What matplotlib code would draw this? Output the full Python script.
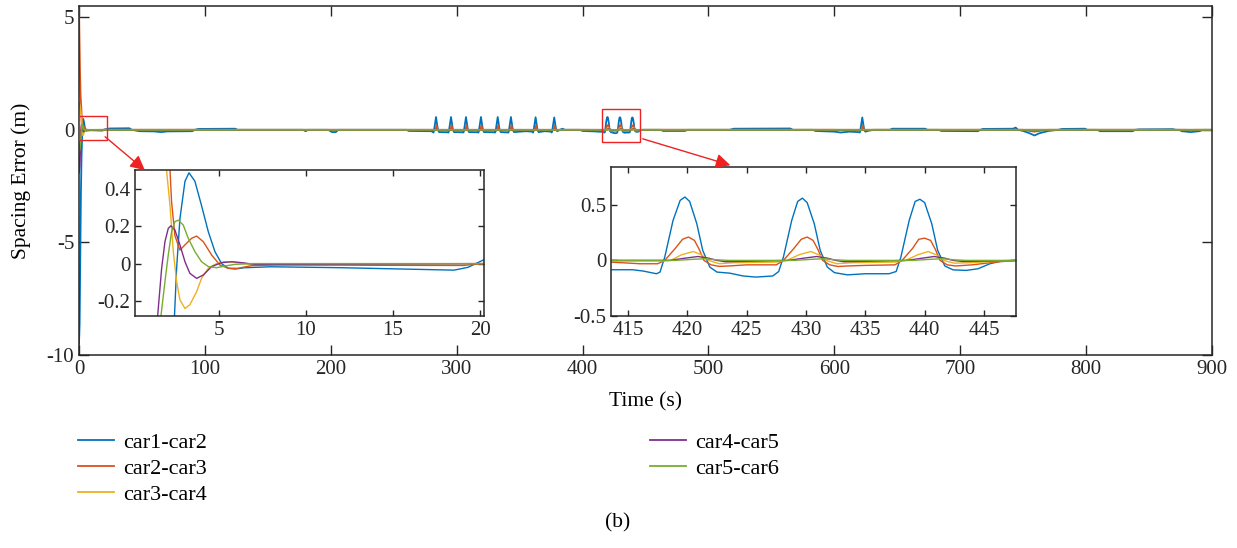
import matplotlib
matplotlib.use('Agg')
import matplotlib.pyplot as plt
from matplotlib.patches import Rectangle, FancyArrowPatch

plt.rcParams['font.family'] = ['Liberation Serif', 'DejaVu Serif']
plt.rcParams['axes.unicode_minus'] = False

# Abstandsfehler (t in s, e in m)
car12 = [(0, -9.5), (0.5, -8.6), (1.0, -5.6), (1.5, -2.9), (2.0, -1.2), (2.44, -0.29), (2.57, -0.025),
         (2.76, 0.24), (3.05, 0.44), (3.28, 0.485), (3.62, 0.44), (4.0, 0.31), (4.39, 0.17), (4.77, 0.064),
         (5.15, 0.0), (5.53, -0.025), (5.92, -0.029), (6.49, -0.022), (8.0, -0.017), (12.0, -0.022),
         (16.0, -0.03), (18.5, -0.035), (19.3, -0.02), (20.2, 0.02), (22, 0.03), (24, 0.06), (40, 0.07),
         (42, 0.0), (48, -0.06), (60, -0.07), (65, -0.1), (70, -0.07), (90, -0.06), (92, 0.0), (95, 0.04),
         (124, 0.05), (126, 0.0), (178, 0.0), (180, -0.06), (182, 0.0), (198, 0.0), (201, -0.1), (204, -0.1),
         (206, 0.0), (260, 0.0), (262, -0.05), (280, -0.06),
         (281.6, -0.12), (282.1, 0.0), (283.6, 0.57), (285.1, 0.0), (286, -0.1), (293, -0.11),
         (293.5, -0.12), (294.0, 0.0), (295.5, 0.57), (297.0, 0.0), (297.9, -0.1), (305, -0.11),
         (305.4, -0.12), (305.9, 0.0), (307.4, 0.57), (308.9, 0.0), (309.8, -0.1), (317, -0.11),
         (317.3, -0.12), (317.8, 0.0), (319.3, 0.57), (320.8, 0.0), (321.7, -0.1), (330, -0.11),
         (330.6, -0.12), (331.1, 0.0), (332.6, 0.57), (334.1, 0.0), (335.0, -0.1),
         (341.1, -0.12), (341.6, 0.0), (343.1, 0.57), (344.6, 0.0), (345.5, -0.1), (355, -0.06), (360, -0.08),
         (360.7, -0.12), (361.2, 0.0), (362.7, 0.56), (364.2, 0.0), (365.1, -0.1), (370, -0.06), (375, -0.08),
         (375.5, -0.12), (376.0, 0.0), (377.5, 0.55), (379.0, 0.0), (379.9, -0.06), (382, 0.0), (384, 0.05),
         (386, 0.0), (398, 0.0), (400, -0.05), (410, -0.07),
         (413.5, -0.084), (415.4, -0.084), (416.3, -0.096), (417.4, -0.12), (417.7, -0.105), (418.1, 0.03),
         (418.8, 0.36), (419.4, 0.54), (419.8, 0.57), (420.2, 0.53), (420.8, 0.33), (421.3, 0.09),
         (421.9, -0.06), (422.5, -0.105), (423.6, -0.115), (424.7, -0.14), (425.8, -0.15), (427.2, -0.14),
         (427.7, -0.10), (428.1, 0.03), (428.8, 0.36), (429.3, 0.53), (429.7, 0.56), (430.1, 0.52),
         (430.7, 0.33), (431.2, 0.09), (431.8, -0.06), (432.4, -0.11), (433.5, -0.13), (435.0, -0.12),
         (437.0, -0.12), (437.6, -0.10), (438.0, 0.03), (438.7, 0.36), (439.2, 0.53), (439.6, 0.55),
         (440.0, 0.52), (440.6, 0.33), (441.1, 0.09), (441.7, -0.05), (442.4, -0.085), (443.5, -0.09),
         (444.5, -0.075), (445.5, -0.03), (446.5, -0.005), (448, 0.0),
         (462, 0.0), (464, -0.05), (481, -0.05), (484, 0.0), (517, 0.0), (520, 0.05), (565, 0.06), (567, 0.0),
         (583, 0.0), (585, -0.05), (600, -0.08), (605, -0.12), (612, -0.08), (619, -0.1), (620.2, -0.12),
         (620.7, 0.0), (622.2, 0.55), (623.7, 0.0), (624.6, -0.08), (628, -0.03), (632, 0.0), (644, 0.0),
         (646, 0.05), (672, 0.05), (674, 0.0), (683, 0.0), (685, -0.05), (714, -0.06), (716, 0.0), (718, 0.04),
         (742, 0.05), (744, 0.1), (746, 0.0), (750, -0.05), (755, -0.15), (759, -0.25), (763, -0.15),
         (770, -0.05), (778, 0.0), (781, 0.04), (799, 0.05), (801, 0.0), (809, 0.0), (811, -0.06), (837, -0.06),
         (839, 0.0), (842, 0.02), (869, 0.03), (871, 0.0), (874, 0.0), (876, -0.06), (883, -0.1), (890, -0.06),
         (893, 0.0), (900, 0.0)]

car23 = [(0, 5.5), (0.4, 4.0), (0.8, 2.6), (1.2, 1.6), (1.6, 1.2), (2.0, 0.8), (2.19, 0.5), (2.28, 0.33),
         (2.47, 0.15), (2.76, 0.072), (3.05, 0.1), (3.43, 0.135), (3.72, 0.147), (4.1, 0.117), (4.58, 0.046),
         (5.06, -0.008), (5.53, -0.025), (6.1, -0.025), (6.87, -0.011), (8.2, -0.008), (19, -0.01),
         (20.2, 0.0), (282, 0.0),
         (282.6, -0.03), (283.2, 0.0), (284.0, 0.2), (285.0, 0.0), (286, -0.04), (294.5, -0.03), (295.1, 0.0),
         (295.9, 0.2), (296.9, 0.0), (298, -0.04), (306.4, -0.03), (307.0, 0.0), (307.8, 0.2), (308.8, 0.0),
         (310, -0.04), (318.3, -0.03), (318.9, 0.0), (319.7, 0.2), (320.7, 0.0), (322, -0.04), (331.6, -0.03),
         (332.2, 0.0), (333.0, 0.2), (334.0, 0.0), (335, -0.04), (342.1, -0.03), (342.7, 0.0), (343.5, 0.2),
         (344.5, 0.0), (346, -0.04), (350, 0.0), (361.7, -0.02), (362.3, 0.0), (363.1, 0.2), (364.1, 0.0),
         (365, -0.03), (368, 0.0), (376.5, -0.02), (377.1, 0.0), (377.9, 0.18), (378.9, 0.0), (380, -0.02),
         (383, 0.0), (405, 0.0), (410, -0.015),
         (413.5, -0.015), (416, -0.03), (417.5, -0.03), (418.1, 0.0), (419.0, 0.11), (419.6, 0.19),
         (420.1, 0.21), (420.6, 0.18), (421.0, 0.1), (421.4, 0.0), (422.0, -0.04), (422.7, -0.054),
         (423.5, -0.05), (425, -0.04), (427.5, -0.04), (428.1, 0.0), (429.0, 0.11), (429.6, 0.19),
         (430.1, 0.21), (430.6, 0.18), (431.0, 0.1), (431.4, 0.0), (432.0, -0.04), (432.7, -0.055),
         (433.5, -0.05), (435, -0.045), (437.5, -0.04), (438.1, 0.0), (439.0, 0.11), (439.5, 0.19),
         (440.0, 0.2), (440.5, 0.18), (440.9, 0.1), (441.3, 0.0), (441.9, -0.04), (442.6, -0.05),
         (444.0, -0.04), (446.0, -0.015), (447.7, 0.0),
         (600, 0.0), (605, -0.02), (615, -0.02), (621.2, -0.02), (621.8, 0.0), (622.6, 0.18), (623.6, 0.0),
         (625, -0.02), (630, 0.0), (750, 0.0), (755, -0.05), (759, -0.08), (763, -0.05), (770, 0.0),
         (880, 0.0), (883, -0.04), (886, 0.0), (900, 0.0)]

car34 = [(0, 1.2), (0.5, 1.1), (1.0, 0.95), (1.5, 0.75), (1.99, 0.5), (2.19, 0.31), (2.38, 0.064),
         (2.57, -0.096), (2.76, -0.194), (3.05, -0.24), (3.33, -0.22), (3.72, -0.15), (4.0, -0.079),
         (4.39, -0.025), (4.86, 0.0), (5.34, 0.01), (5.92, 0.007), (6.87, -0.004), (12, -0.005), (20.2, 0.0),
         (413.5, -0.005), (418.0, -0.005), (418.6, 0.0), (419.5, 0.05), (420.5, 0.08), (421.2, 0.05),
         (421.8, 0.0), (422.7, -0.03), (424, -0.02), (427.5, -0.015), (428.4, 0.0), (429.4, 0.05),
         (430.4, 0.08), (431.1, 0.05), (431.7, 0.0), (432.6, -0.03), (434, -0.02), (437.5, -0.015),
         (438.4, 0.0), (439.4, 0.05), (440.3, 0.08), (441.0, 0.05), (441.6, 0.0), (442.5, -0.025),
         (444, -0.02), (446, -0.008), (447.7, 0.0), (900, 0.0)]

car45 = [(0, -1.9), (0.5, -1.6), (1.0, -0.9), (1.48, -0.28), (1.71, -0.025), (1.9, 0.117), (2.09, 0.188),
         (2.24, 0.202), (2.47, 0.18), (2.76, 0.1), (3.05, 0.01), (3.33, -0.052), (3.72, -0.079), (4.1, -0.061),
         (4.58, -0.016), (5.15, 0.005), (5.73, 0.01), (6.3, 0.005), (7.06, -0.004), (12, -0.003), (20.2, 0.0),
         (413.5, 0.0), (418.5, 0.0), (419.8, 0.02), (420.9, 0.035), (421.8, 0.02), (422.5, 0.0),
         (423.2, -0.012), (425, -0.008), (428.5, 0.0), (429.8, 0.02), (430.9, 0.035), (431.8, 0.02),
         (432.5, 0.0), (433.2, -0.012), (435, -0.008), (438.5, 0.0), (439.8, 0.02), (440.8, 0.035),
         (441.7, 0.02), (442.4, 0.0), (443.2, -0.01), (445, -0.006), (447.7, 0.0), (900, 0.0)]

car56 = [(0, -1.0), (0.6, -0.85), (1.2, -0.55), (1.67, -0.28), (1.9, -0.096), (2.09, 0.046), (2.28, 0.17),
         (2.47, 0.224), (2.67, 0.232), (2.95, 0.206), (3.24, 0.135), (3.62, 0.064), (4.0, 0.01),
         (4.39, -0.016), (4.86, -0.022), (5.34, -0.013), (5.92, -0.004), (7, 0.0),
         (413.5, 0.0), (419, 0.0), (420.5, 0.01), (421.5, 0.015), (422.5, 0.005), (423.5, 0.0),
         (429, 0.0), (430.5, 0.01), (431.5, 0.015), (432.5, 0.005), (433.5, 0.0),
         (439, 0.0), (440.5, 0.01), (441.5, 0.015), (442.5, 0.005), (443.5, 0.0), (900, 0.0)]

serien = [car12, car23, car34, car45, car56]
labels = ['car1-car2', 'car2-car3', 'car3-car4', 'car4-car5', 'car5-car6']
farben = ['#0072BD', '#D95319', '#EDB120', '#7E2F8E', '#77AC30']

W, H = 1237, 548
fig = plt.figure(figsize=(W / 100, H / 100), dpi=100)

def box(l, t, r, b):
    return [l / W, 1 - b / H, (r - l) / W, (b - t) / H]

def style(a, laenge):
    a.tick_params(direction='in', top=True, right=True, length=laenge, width=1,
                  labelsize=15, colors='#262626')
    for s in a.spines.values():
        s.set_linewidth(1.1)
        s.set_color('#262626')

# Hauptplot
ax = fig.add_axes(box(79, 6, 1212, 355))
lines = []
for d, lab, c in zip(serien, labels, farben):
    t, e = zip(*d)
    line, = ax.plot(t, e, color=c, lw=1.3, label=lab)
    lines.append(line)
ax.set_xlim(0, 900)
ax.set_ylim(-10, 5.5)
ax.set_xticks(range(0, 901, 100))
ax.set_yticks([-10, -5, 0, 5])
style(ax, 7)
ax.set_xlabel('Time (s)', fontsize=15.5, labelpad=9.5)
ax.set_ylabel('Spacing Error (m)', fontsize=15.5)
ax.yaxis.set_label_coords(-0.0425, 0.5)

# Zoom-Bereiche markieren
ax.add_patch(Rectangle((0.2, -0.44), 22, 1.06, fill=False, ec='#EE2222', lw=1, zorder=5))
ax.add_patch(Rectangle((415.2, -0.52), 30.4, 1.44, fill=False, ec='#EE2222', lw=1, zorder=5))

# Inset 1
ax1 = fig.add_axes(box(135, 170, 484, 316))
for d, c in zip(serien, farben):
    t, e = zip(*d)
    ax1.plot(t, e, color=c, lw=1.0)
ax1.set_xlim(0.18, 20.22)
ax1.set_ylim(-0.28, 0.5)
ax1.set_xticks([5, 10, 15, 20])
ax1.set_yticks([-0.2, 0, 0.2, 0.4])
ax1.set_yticklabels(['-0.2', '0', '0.2', '0.4'])
style(ax1, 4)

# Inset 2
ax2 = fig.add_axes(box(611, 167, 1016, 316))
for d, c in zip(serien, farben):
    t, e = zip(*d)
    ax2.plot(t, e, color=c, lw=1.0)
ax2.set_xlim(413.57, 447.7)
ax2.set_ylim(-0.5, 0.84)
ax2.set_xticks(range(415, 446, 5))
ax2.set_yticks([-0.5, 0, 0.5])
ax2.set_yticklabels(['-0.5', '0', '0.5'])
style(ax2, 4)

# Pfeile
for (x0, y0), (x1, y1) in [((103, 135), (147, 172)), ((640, 138), (733, 166))]:
    fig.add_artist(FancyArrowPatch((x0 / W, 1 - y0 / H), (x1 / W, 1 - y1 / H),
                                   transform=fig.transFigure, arrowstyle='-|>',
                                   mutation_scale=22, color='#EE2222', lw=1))

# Legende in zwei Spalten
kw = dict(loc='upper left', frameon=False, fontsize=16, handlelength=1.6,
          handletextpad=0.45, labelspacing=0.26, borderaxespad=0, borderpad=0)
fig.legend(lines[:3], labels[:3], bbox_to_anchor=(78 / W, 1 - 432 / H), **kw)
fig.legend(lines[3:], labels[3:], bbox_to_anchor=(650 / W, 1 - 432 / H), **kw)

fig.text(618 / W, 1 - 523 / H, '(b)', ha='center', va='center', fontsize=15.5)

fig.savefig('out.png', dpi=100)
